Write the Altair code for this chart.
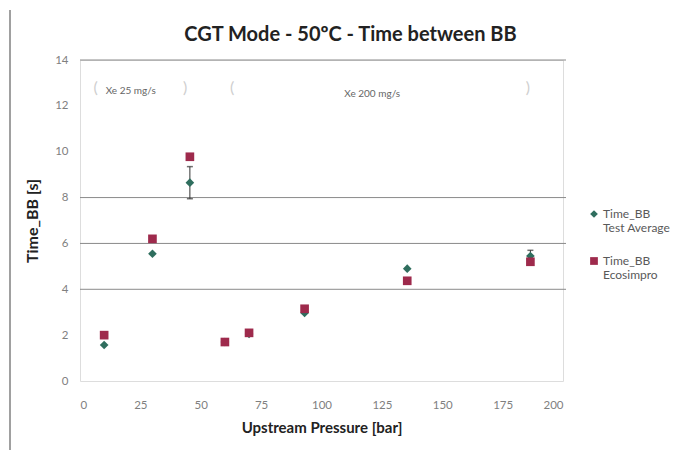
import altair as alt
import pandas as pd

# ---- data ----
pressure = [10, 30, 45.5, 60, 70, 93, 135.5, 186.5]
test_avg = [1.57, 5.55, 8.65, 1.7, 2.05, 2.97, 4.9, 5.45]
ecosimpro = [2.0, 6.2, 9.78, 1.7, 2.1, 3.15, 4.37, 5.2]

err_x = [45.5, 186.5]
err_lo = [7.95, 5.2]
err_hi = [9.35, 5.7]

grid_vals = [4, 6, 8, 14]

note_text = ["Xe 25 mg/s", "Xe 200 mg/s"]
note_x = [21, 121]
note_y = [12.65, 12.5]

arc_char = ["(", ")", "(", ")"]
arc_x = [6.5, 43.5, 63, 185.5]
arc_y = [12.8, 12.8, 12.8, 12.8]

series_names = ["Time_BB\nTest Average", "Time_BB\nEcosimpro"]
series_colors = ["#2f6e5e", "#9e2a4c"]
series_shapes = ["diamond", "square"]

W, H = 483, 321
FONT = "Lato"

rows = []
for p, v in zip(pressure, test_avg):
    rows.append({"p": p, "v": v, "s": series_names[0], "o": 0})
for p, v in zip(pressure, ecosimpro):
    rows.append({"p": p, "v": v, "s": series_names[1], "o": 1})
pts = pd.DataFrame(rows)
errs = pd.DataFrame({"p": err_x, "lo": err_lo, "hi": err_hi})
grid = pd.DataFrame({"g": grid_vals})
notes = pd.DataFrame({"t": note_text, "x": note_x, "y": note_y})
arcs = pd.DataFrame({"t": arc_char, "x": arc_x, "y": arc_y})

xscale = alt.Scale(domain=[0, 200], nice=False)
yscale = alt.Scale(domain=[0, 14], nice=False)

xaxis = alt.Axis(title="Upstream Pressure [bar]", values=[0, 25, 50, 75, 100, 125, 150, 175, 200],
                 grid=False, domain=False, ticks=False, labelPadding=18,
                 labelColor="#7f7f7f", labelFontSize=11.5, labelFont=FONT,
                 titleFont=FONT, titleFontSize=15, titleFontWeight="bold", titleColor="#222222",
                 titlePadding=10)
yaxis = alt.Axis(title="Time_BB [s]", values=[0, 2, 4, 6, 8, 10, 12, 14],
                 grid=False, domain=False, ticks=False, labelPadding=12,
                 labelColor="#7f7f7f", labelFontSize=11.5, labelFont=FONT,
                 titleFont=FONT, titleFontSize=16, titleFontWeight="bold", titleColor="#222222",
                 titlePadding=14)

grid_layer = alt.Chart(grid).mark_rule(color="#8a8a8a", strokeWidth=1).encode(
    y=alt.Y("g:Q", scale=yscale, axis=yaxis),
    x=alt.value(0), x2=alt.value(W + 3),
)

border = alt.Chart(grid).mark_rule(color="#a0a0a0", strokeWidth=2, clip=False).encode(
    x=alt.value(-70), y=alt.value(-50), y2=alt.value(390)
)

err_layer = alt.Chart(errs).mark_rule(color="#333333", strokeWidth=1).encode(
    x=alt.X("p:Q", scale=xscale, axis=xaxis),
    y=alt.Y("lo:Q", scale=yscale), y2="hi:Q",
)
cap_lo = alt.Chart(errs).mark_tick(color="#333333", thickness=1.5, size=6, orient="horizontal").encode(
    x=alt.X("p:Q", scale=xscale), y=alt.Y("lo:Q", scale=yscale))
cap_hi = alt.Chart(errs).mark_tick(color="#333333", thickness=1.5, size=6, orient="horizontal").encode(
    x=alt.X("p:Q", scale=xscale), y=alt.Y("hi:Q", scale=yscale))

point_layer = alt.Chart(pts).mark_point(filled=True, opacity=1, size=75).encode(
    x=alt.X("p:Q", scale=xscale, axis=xaxis),
    y=alt.Y("v:Q", scale=yscale),
    color=alt.Color("s:N", scale=alt.Scale(domain=series_names, range=series_colors),
                    legend=alt.Legend(title=None, orient="none", legendX=508, legendY=148,
                                      labelExpr="split(datum.label, '\\n')",
                                      labelFont=FONT, labelFontSize=12, labelColor="#595959",
                                      symbolSize=60, rowPadding=21, labelOffset=3, labelLimit=200)),
    shape=alt.Shape("s:N", scale=alt.Scale(domain=series_names, range=series_shapes), legend=None),
    order=alt.Order("o:Q"),
)

note_layer = alt.Chart(notes).mark_text(font=FONT, fontSize=10, color="#666666").encode(
    x=alt.X("x:Q", scale=xscale), y=alt.Y("y:Q", scale=yscale), text="t:N")
arc_layer = alt.Chart(arcs).mark_text(font=FONT, fontSize=16, color="#cfcfcf").encode(
    x=alt.X("x:Q", scale=xscale), y=alt.Y("y:Q", scale=yscale), text="t:N")

chart = alt.layer(grid_layer, border, arc_layer, note_layer, err_layer, cap_lo, cap_hi, point_layer).properties(
    width=W, height=H,
    title=alt.TitleParams("CGT Mode - 50ºC - Time between BB", font=FONT, fontSize=20,
                          fontWeight="bold", color="#222222", offset=-36, frame="group", dx=29),
    autosize=alt.AutoSizeParams(type="none"),
    padding={"left": 80, "top": 60, "right": 678 - 80 - W, "bottom": 450 - 60 - H},
).configure_view(stroke=None).configure(background="white")

chart.save("out.html", embed_options={"renderer": "svg", "actions": False})
